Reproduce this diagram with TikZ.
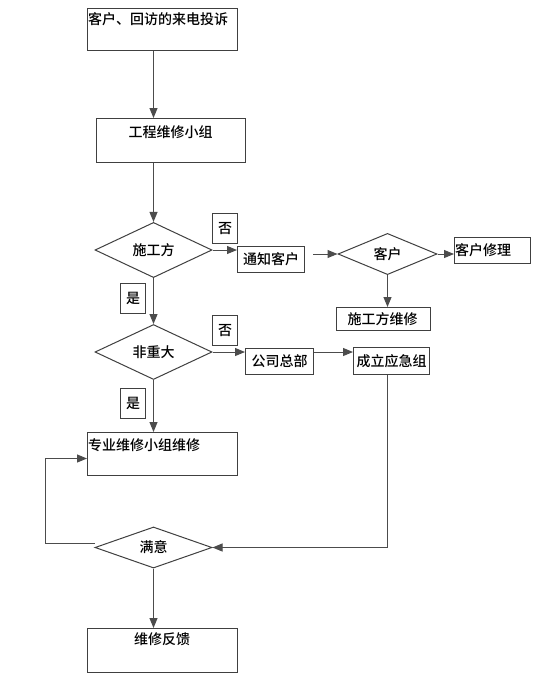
\documentclass[tikz,border=0pt]{standalone}
\usepackage{fontspec}
\newfontfamily\cjk{Noto Sans CJK SC}[BoldFont={Noto Sans CJK SC Medium}]
\usetikzlibrary{shapes.geometric,arrows.meta}
\tikzset{
  every node/.style={font=\cjk\bfseries\fontsize{14}{16}\selectfont, inner sep=0pt, text=black},
  box/.style={draw=black!75, line width=1pt, rectangle, anchor=north west},
  dia/.style={draw=black!75, line width=1pt, diamond, inner sep=0pt},
  tag/.style={draw=black!75, line width=1pt, rectangle, minimum width=25pt, minimum height=30pt, anchor=north west},
  arr/.style={draw=black!70, line width=1pt, -{Triangle[length=10pt,width=8pt]}},
  ln/.style={draw=black!70, line width=1pt}
}
\begin{document}
\begin{tikzpicture}[x=1pt,y=-1pt]
\useasboundingbox[fill=white] (0,0) rectangle (555,680);
% boxes with text at top
\node[box, minimum width=150pt, minimum height=42pt] (b1) at (87,8) {};
\node[anchor=north west] (t1) at (88,12.5) {客户、回访的来电投诉};
\node[box, minimum width=149pt, minimum height=44pt] (b2) at (96,118) {};
\node[anchor=north] (t2) at (170.5,125) {工程维修小组};
\node[box, minimum width=150pt, minimum height=43pt] (b5) at (87,432) {};
\node[anchor=north west] (t5) at (88,438) {专业维修小组维修};
\node[box, minimum width=150pt, minimum height=44pt] (b10) at (87,628) {};
\node[anchor=north] (t10) at (162,632) {维修反馈};
% small boxes
\node[box, minimum width=67pt, minimum height=26pt] (b4) at (237,246) {};
\node (t4) at (b4.center) {通知客户};
\node[box, minimum width=76pt, minimum height=26pt] (b6) at (454,237) {};
\node[anchor=west] (t6) at ([xshift=1pt]b6.west) {客户修理};
\node[box, minimum width=94pt, minimum height=23pt] (b7) at (336,307) {};
\node (t7) at ([xshift=-1pt]b7.center) {施工方维修};
\node[box, minimum width=68pt, minimum height=26pt] (b8) at (245,348) {};
\node (t8) at (b8.center) {公司总部};
\node[box, minimum width=76pt, minimum height=27pt] (b9) at (353,347) {};
\node (t9) at (b9.center) {成立应急组};
% diamonds
\node[dia, minimum width=117pt, minimum height=42pt] (d1) at (153.5,250) {施工方};
\node[dia, minimum width=117pt, minimum height=43pt] (d2) at (153.5,352) {非重大};
\node[dia, minimum width=99pt, minimum height=34pt] (d3) at (387.5,254) {客户};
\node[dia, minimum width=117pt, minimum height=41pt] (d4) at (153.5,547.5) {满意};
% tags
\node[tag] (n1) at (212,213) {};
\node (n1t) at (n1.center) {否};
\node[tag] (y1) at (120,283) {};
\node (y1t) at (y1.center) {是};
\node[tag] (n2) at (212,315) {};
\node (n2t) at (n2.center) {否};
\node[tag] (y2) at (120,388) {};
\node (y2t) at (y2.center) {是};
% connectors
\draw[arr] (d1.north |- b1.south) -- (d1.north |- b2.north);
\draw[arr] (d1.north |- b2.south) -- (d1.north);
\draw[arr] (d1.east) -- (d1.east -| b4.west);
\draw[arr] ([xshift=8pt]b4.east |- d3.west) -- (d3.west);
\draw[arr] (d3.east) -- (d3.east -| b6.west);
\draw[arr] (d3.south) -- (d3.south |- b7.north);
\draw[arr] (d1.south) -- (d2.north);
\draw[arr] (d2.east) -- (d2.east -| b8.west);
\draw[arr] (b8.east |- d2.east) -- (b9.west |- d2.east);
\draw[arr] (d2.south) -- (d2.south |- b5.north);
\coordinate (c1) at ([xshift=-4pt]b9.south);
\draw[arr] (c1) -- (c1 |- d4.east) -- (d4.east);
\coordinate (c2) at (45,543);
\draw[arr] (d4.west |- c2) -- (c2) |- ([yshift=-4.5pt]b5.west);
\draw[arr] (d4.south) -- (d4.south |- b10.north);
\end{tikzpicture}
\end{document}
